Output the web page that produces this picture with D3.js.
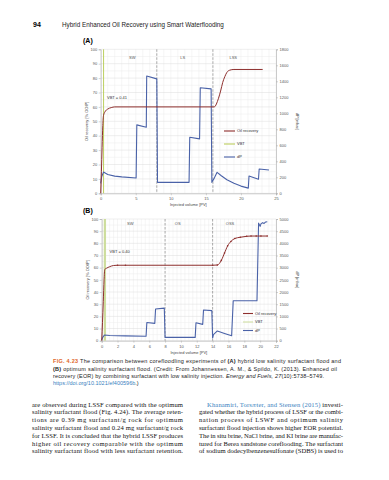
<!DOCTYPE html>
<html>
<head>
<meta charset="utf-8">
<script src="https://cdn.jsdelivr.net/npm/d3@7"></script>
<style>
  body { margin: 0; background: #fff; }
  svg { display: block; }
</style>
</head>
<body>
<svg id="page" width="389" height="480"></svg>
<script>
(function () {
    'use strict';

    // ---- chart (A): hybrid low salinity surfactant flood ----
    const oilA = [[0, 0], [0.1, 15], [0.2, 32], [0.3, 47], [0.4, 54], [0.6, 56.5], [1, 58.5], [1.5, 59.5], [2, 60],
        [16.2, 60], [16.5, 62], [16.8, 66], [17.1, 71], [17.4, 77], [17.7, 81], [18.0, 84], [18.4, 85.5], [19, 86], [23.1, 86]];
    const dpA = [[0, 125], [0.15, 210], [0.4, 265], [1, 235], [2, 215], [3, 205], [5.05, 192], [5.15, 855], [6.5, 825],
        [6.56, 1467], [8.0, 1430], [8.1, 137], [12.6, 137], [12.7, 700], [14.1, 680], [14.2, 1320], [15.75, 1305],
        [15.85, 137], [16.2, 190], [16.6, 262], [17.2, 220], [18, 170], [19, 125], [20, 90], [21.05, 65],
        [21.15, 216], [22.5, 175], [22.6, 304], [24.0, 292]];
    const vbtA = 0.41;
    const zonesA = ['SW', 'LS', 'LSS'];
    const zoneMidA = [4.5, 11.7, 18.9];
    const zoneEdgesA = [8, 16];
    const xTicksA = [0, 5, 10, 15, 20, 25];
    const dpTicksA = [0, 200, 400, 600, 800, 1000, 1200, 1400, 1600, 1800];

    // ---- chart (B): optimum salinity surfactant flood ----
    const oilB = [[0, 0], [0.1, 15], [0.2, 32], [0.3, 50], [0.38, 58.5], [0.6, 59.5], [1, 60.8], [1.5, 61.8], [2, 62],
        [3, 62], [14, 62], [14.6, 62.2], [15.1, 66], [15.5, 72], [15.9, 78], [16.3, 81.5], [16.8, 84], [17.5, 85],
        [18.3, 85.8], [18.85, 86], [19.5, 86], [20.1, 86], [20.9, 86]];
    const dpB = [[0, 30], [0.15, 150], [0.35, 235], [1, 215], [3, 200], [5.6, 185], [5.7, 750], [6.7, 712], [6.8, 1300],
        [7.9, 1340], [8.0, 137], [11.8, 137], [11.9, 740], [12.75, 670], [12.85, 1260], [13.9, 1235], [14.0, 110],
        [14.1, 250], [14.6, 400], [15.5, 300], [16.4, 205], [16.6, 1640], [19.6, 1640], [19.8, 4830], [20.0, 4700],
        [20.1, 4800], [20.3, 4850], [20.5, 4820], [20.7, 4880], [20.9, 4890]];
    const vbtB = 0.40;
    const zonesB = ['SW', 'OS', 'OSS'];
    const zoneMidB = [3.6, 9.6, 16.2];
    const zoneEdgesB = [8, 14];
    const xTicksB = [0, 2, 4, 6, 8, 10, 12, 14, 16, 18, 20, 22];
    const dpTicksB = [0, 500, 1000, 1500, 2000, 2500, 3000, 3500, 4000, 4500, 5000];

    const oilTicks = [0, 10, 20, 30, 40, 50, 60, 70, 80, 90, 100];
    const legendNames = ['Oil recovery', 'VBT', 'dP'];

    const colOil = '#8e2f2d';
    const colDp = '#4a62a8';
    const svg = d3.select('#page');
    svg.append('rect').attr('width', 389).attr('height', 480).attr('fill', '#fff');

    // page header
    svg.append('text').attr('x', 33).attr('y', 26.5)
        .style('font', 'bold 7px "Liberation Sans", Arial, sans-serif').text('94');
    svg.append('text').attr('x', 62).attr('y', 26.5)
        .style('font', '6.3px "Liberation Sans", Arial, sans-serif').attr('fill', '#222')
        .text('Hybrid Enhanced Oil Recovery using Smart Waterflooding');

    function drawChart(o) {
        let g = svg.append('g');
        let x = d3.scaleLinear().domain([0, o.xMax]).range([o.left, o.right]);
        let y = d3.scaleLinear().domain([0, 100]).range([o.bottom, o.top]);
        let y2 = d3.scaleLinear().domain([0, o.dpMax]).range([o.bottom, o.top]);
        let font = '4px "Liberation Sans", Arial, sans-serif';

        // grid
        g.append('g').selectAll('line').data(d3.range(0, o.xMax + 0.001, o.xMinor))
            .enter().append('line')
            .attr('x1', d => x(d)).attr('x2', d => x(d))
            .attr('y1', o.top).attr('y2', o.bottom)
            .attr('stroke', '#ececec').attr('stroke-width', 0.5);
        g.append('g').selectAll('line').data(d3.range(0, 100.001, 5))
            .enter().append('line')
            .attr('x1', o.left).attr('x2', o.right)
            .attr('y1', d => y(d)).attr('y2', d => y(d))
            .attr('stroke', d => d % 10 === 0 ? '#dcdcdc' : '#ececec').attr('stroke-width', 0.5);

        // axes
        let xAxis = d3.axisBottom(x).tickValues(o.xTicks).tickSize(2).tickPadding(2);
        let yAxis = d3.axisLeft(y).tickValues(oilTicks).tickSize(2).tickPadding(1.5);
        let y2Axis = d3.axisRight(y2).tickValues(o.dpTicks).tickFormat(d3.format('d')).tickSize(2).tickPadding(1.5);
        [
            [xAxis, 'translate(0,' + o.bottom + ')'],
            [yAxis, 'translate(' + o.left + ',0)'],
            [y2Axis, 'translate(' + o.right + ',0)']
        ].forEach(function (a) {
            let ag = g.append('g').attr('transform', a[1]).call(a[0]);
            ag.select('.domain').attr('stroke', '#aaa').attr('stroke-width', 0.6);
            ag.selectAll('.tick line').attr('stroke', '#aaa').attr('stroke-width', 0.5);
            ag.selectAll('.tick text').style('font', font).attr('fill', '#555');
        });

        g.append('text')
            .attr('x', (o.left + o.right) / 2).attr('y', o.bottom + 13)
            .attr('text-anchor', 'middle').style('font', font).attr('fill', '#444')
            .text('Injected volume [PV]');
        g.append('text')
            .attr('transform', 'translate(' + (o.left - 13) + ',' + ((o.top + o.bottom) / 2) + ') rotate(-90)')
            .attr('text-anchor', 'middle').style('font', font).attr('fill', '#444')
            .text('Oil recovery [% OOIP]');
        g.append('text')
            .attr('transform', 'translate(' + (o.right + 20) + ',' + ((o.top + o.bottom) / 2) + ') rotate(90)')
            .attr('text-anchor', 'middle').style('font', font).attr('fill', '#444')
            .text('dP [mbar]');

        // panel letter
        g.append('text').attr('x', 83).attr('y', o.top - 6)
            .style('font', 'bold 7px "Liberation Sans", Arial, sans-serif').text(o.letter);

        // zone boundaries and names
        g.append('g').selectAll('line').data(o.edges)
            .enter().append('line')
            .attr('x1', d => x(d)).attr('x2', d => x(d))
            .attr('y1', o.top).attr('y2', o.bottom)
            .attr('stroke', '#777').attr('stroke-width', 0.6).attr('stroke-dasharray', '2.5,1.5');
        g.append('g').selectAll('text').data(o.zones)
            .enter().append('text')
            .attr('x', (d, i) => x(o.zoneMid[i])).attr('y', y(o.zoneY))
            .attr('text-anchor', 'middle').style('font', font).attr('fill', '#555')
            .text(d => d);

        // VBT line
        g.append('line')
            .attr('x1', x(o.vbt)).attr('x2', x(o.vbt))
            .attr('y1', o.top).attr('y2', o.bottom)
            .attr('stroke', o.vbtColor).attr('stroke-width', o.vbtWidth);
        g.append('text')
            .attr('x', x(o.vbtLabel[0])).attr('y', y(o.vbtLabel[1]))
            .style('font', font).attr('fill', '#333')
            .text('VBT = ' + o.vbt.toFixed(2));

        // series
        let lineOil = d3.line().x(d => x(d[0])).y(d => y(d[1])).curve(d3.curveMonotoneX);
        let lineDp = d3.line().x(d => x(d[0])).y(d => y2(d[1]));
        g.append('path').datum(o.dp)
            .attr('d', lineDp).attr('fill', 'none')
            .attr('stroke', colDp).attr('stroke-width', 1.1).attr('stroke-linejoin', 'round');
        g.append('path').datum(o.oil)
            .attr('d', lineOil).attr('fill', 'none')
            .attr('stroke', colOil).attr('stroke-width', 1);
        if (o.markers) {
            g.append('g').selectAll('circle').data(o.oil.slice(8))
                .enter().append('circle')
                .attr('cx', d => x(d[0])).attr('cy', d => y(d[1])).attr('r', 0.8)
                .attr('fill', colOil);
        }

        // legend
        let lg = g.append('g');
        let colors = [colOil, o.vbtColor, colDp];
        legendNames.forEach(function (name, i) {
            let ly = o.legendY + i * o.legendGap;
            lg.append('line')
                .attr('x1', o.legendX).attr('x2', o.legendX + o.legendLen)
                .attr('y1', ly).attr('y2', ly)
                .attr('stroke', colors[i]).attr('stroke-width', i === 1 ? 1 : 1.1);
            lg.append('text')
                .attr('x', o.legendX + o.legendLen + 2).attr('y', ly + 1.4)
                .style('font', font).attr('fill', '#333').text(name);
        });
    }

    drawChart({
        letter: '(A)', left: 100.7, right: 276, top: 49.3, bottom: 193.3,
        xMax: 25, xMinor: 1, xTicks: xTicksA, dpMax: 1800, dpTicks: dpTicksA,
        oil: oilA, dp: dpA, vbt: vbtA, vbtColor: '#b6c94e', vbtWidth: 0.9, vbtLabel: [0.9, 65.3],
        zones: zonesA, zoneMid: zoneMidA, edges: zoneEdgesA, zoneY: 93,
        legendX: 224, legendLen: 11, legendY: 131, legendGap: 13, markers: false
    });
    drawChart({
        letter: '(B)', left: 101.7, right: 276, top: 219, bottom: 340.7,
        xMax: 22, xMinor: 0.5, xTicks: xTicksB, dpMax: 5000, dpTicks: dpTicksB,
        oil: oilB, dp: dpB, vbt: vbtB, vbtColor: '#cddd9c', vbtWidth: 2.2, vbtLabel: [1.0, 72.3],
        zones: zonesB, zoneMid: zoneMidB, edges: zoneEdgesB, zoneY: 95,
        legendX: 243, legendLen: 10, legendY: 313.5, legendGap: 8.5, markers: true
    });

    // ---- caption ----
    const capFont = '5.5px "Liberation Sans", Arial, sans-serif';
    const capY = [363, 370.5, 378, 385.4];
    let cap = svg.append('g').style('font', capFont).attr('fill', '#222');
    let c1 = cap.append('text').attr('x', 53).attr('y', capY[0]).attr('textLength', 288).attr('lengthAdjust', 'spacing');
    c1.append('tspan').attr('fill', '#e0662a').style('font-weight', 'bold').text('FIG. 4.23 ');
    c1.append('tspan').text('The comparison between corefloodling experiments of ');
    c1.append('tspan').style('font-weight', 'bold').text('(A)');
    c1.append('tspan').text(' hybrid low salinity surfactant flood and');
    let c2 = cap.append('text').attr('x', 53).attr('y', capY[1]).attr('textLength', 284).attr('lengthAdjust', 'spacing');
    c2.append('tspan').style('font-weight', 'bold').text('(B)');
    c2.append('tspan').text(' optimum salinity surfactant flood. (Credit: From Johannessen, A. M., & Spildo, K. (2013). Enhanced oil');
    let c3 = cap.append('text').attr('x', 53).attr('y', capY[2]).attr('textLength', 271).attr('lengthAdjust', 'spacing');
    c3.append('tspan').text('recovery (EOR) by combining surfactant with low salinity injection. ');
    c3.append('tspan').style('font-style', 'italic').text('Energy and Fuels, 27');
    c3.append('tspan').text('(10):5738\u20135749.');
    let c4 = cap.append('text').attr('x', 53).attr('y', capY[3]);
    c4.append('tspan').attr('fill', '#3a7fc0').text('https://doi.org/10.1021/ef400596b');
    c4.append('tspan').text('.)');

    // ---- body text (two justified columns) ----
    const leftCol = [
        'are observed during LSSF compared with the optimum',
        'salinity surfactant flood (Fig. 4.24). The average reten-',
        'tions are 0.39 mg surfactant/g rock for optimum',
        'salinity surfactant flood and 0.24 mg surfactant/g rock',
        'for LSSF. It is concluded that the hybrid LSSF produces',
        'higher oil recovery comparable with the optimum',
        'salinity surfactant flood with less surfactant retention.'
    ];
    const rightCol = [
        'gated whether the hybrid process of LSSF or the combi-',
        'nation process of LSWF and optimum salinity',
        'surfactant flood injection shows higher EOR potential.',
        'The in situ brine, NaCl brine, and KI brine are manufac-',
        'tured for Berea sandstone coreflooding. The surfactant',
        'of sodium dodecylbenzenesulfonate (SDBS) is used to'
    ];
    const bodyFont = '6.6px "Liberation Serif", "Times New Roman", serif';
    let body = svg.append('g').style('font', bodyFont).attr('fill', '#111');
    leftCol.forEach(function (t, i) {
        body.append('text').attr('x', 32).attr('y', 406.5 + i * 7.8)
            .attr('textLength', 151).attr('lengthAdjust', 'spacing').text(t);
    });
    let r1 = body.append('text').attr('x', 207).attr('y', 406.5)
        .attr('textLength', 136).attr('lengthAdjust', 'spacing');
    r1.append('tspan').attr('fill', '#3a7fc0').text('Khanamiri, Tors\u00e6ter, and Stensen (2015)');
    r1.append('tspan').text(' investi-');
    rightCol.forEach(function (t, i) {
        body.append('text').attr('x', 199).attr('y', 406.5 + (i + 1) * 7.8)
            .attr('textLength', 144).attr('lengthAdjust', 'spacing').text(t);
    });
})();
</script>
</body>
</html>
